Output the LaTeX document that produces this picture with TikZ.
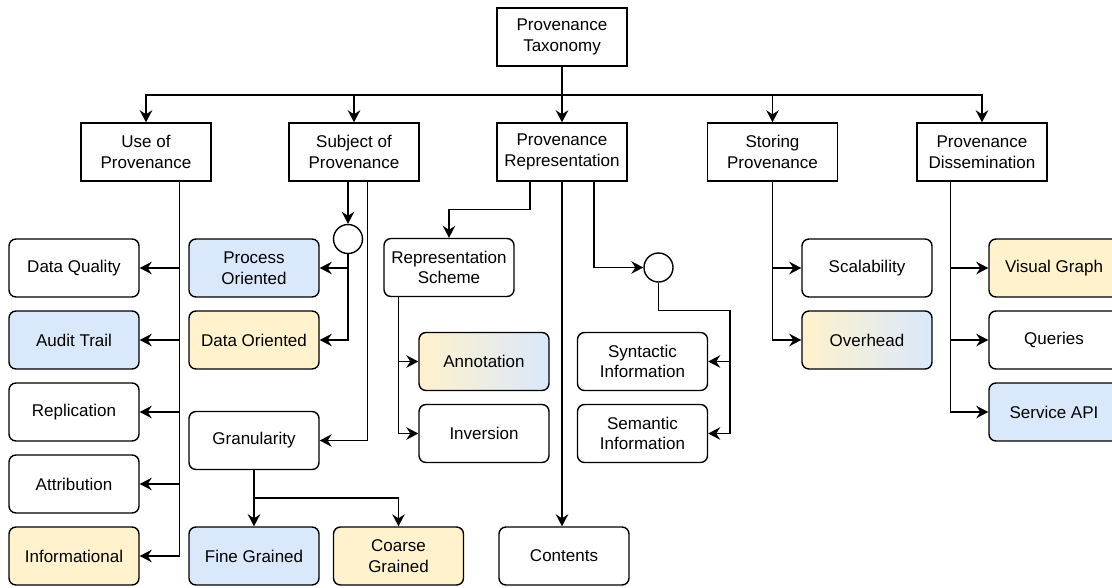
\documentclass[tikz,border=0pt]{standalone}
\usepackage{fontspec}
\setmainfont{Liberation Sans}
\usetikzlibrary{arrows.meta}
\definecolor{boxblue}{HTML}{DAE8FC}
\definecolor{boxyellow}{HTML}{FFF2CC}

\begin{document}
\begin{tikzpicture}[x=1pt,y=-1pt,
  every node/.style={font=\fontsize{17}{20.5}\selectfont, align=center, inner sep=0pt},
  topbox/.style={draw, line width=1.4pt, minimum width=130pt, minimum height=58pt},
  leaf/.style={topbox, rounded corners=7pt},
  blueleaf/.style={leaf, fill=boxblue},
  yellowleaf/.style={leaf, fill=boxyellow},
  mixleaf/.style={leaf, left color=boxyellow, right color=boxblue},
  junction/.style={draw, circle, line width=1.4pt, minimum size=29pt},
  link/.style={line width=1.4pt, -{Stealth[length=12pt,width=12.5pt,inset=4pt]}}
]
\useasboundingbox (0,0) rectangle (1112,587);

% top level and categories
\node[topbox] (root) at (562,37)   {Provenance\\Taxonomy};
\node[topbox] (use)  at (146,152)  {Use of\\Provenance};
\node[topbox] (subj) at (354,152)  {Subject of\\Provenance};
\node[topbox] (repr) at (562,152)  {Provenance\\Representation};
\node[topbox] (stor) at (772.5,152){Storing\\Provenance};
\node[topbox] (diss) at (982,152)  {Provenance\\Dissemination};

% use of provenance
\node[leaf]       (dq)    at (74,268) {Data Quality};
\node[blueleaf]   (audit) at (74,340) {Audit Trail};
\node[leaf]       (repl)  at (74,412) {Replication};
\node[leaf]       (attr)  at (74,484) {Attribution};
\node[yellowleaf] (info)  at (74,556) {Informational};

% subject of provenance
\node[junction]   (c1)     at (348,239) {};
\node[blueleaf]   (proc)   at (254,268) {Process\\Oriented};
\node[yellowleaf] (dori)   at (254,340) {Data Oriented};
\node[leaf]       (gran)   at (254,440.5) {Granularity};
\node[blueleaf]   (fine)   at (254,556) {Fine Grained};
\node[yellowleaf] (coarse) at (398.5,556) {Coarse\\Grained};

% representation
\node[leaf]     (scheme)   at (449,267.5) {Representation\\Scheme};
\node[mixleaf]  (annot)    at (484,361.5) {Annotation};
\node[leaf]     (inv)      at (484,433.5) {Inversion};
\node[leaf]     (contents) at (564,556) {Contents};
\node[junction] (c2)       at (658.5,267.5) {};
\node[leaf]     (synt)     at (642.5,361.5) {Syntactic\\Information};
\node[leaf]     (sem)      at (642.5,433.5) {Semantic\\Information};

% storing
\node[leaf]    (scal) at (867,268) {Scalability};
\node[mixleaf] (over) at (867,340) {Overhead};

% dissemination
\node[yellowleaf] (vis)  at (1054,268) {Visual Graph};
\node[leaf]       (quer) at (1054,340) {Queries};
\node[blueleaf]   (serv) at (1054,412) {Service API};

% connectors
\coordinate (bus) at (562,95);
\draw[link] (root.south) -- (repr.north);
\foreach \t in {use,subj,stor,diss}
  \draw[link] (root.south) -- (bus) -| (\t.north);

\foreach \t in {dq,audit,repl,attr,info}
  \draw[link] ([xshift=33.3pt]use.south) |- (\t.east);

\draw[link] (subj.south -| c1.north) -- (c1.north);
\draw[link] (c1.south) |- (proc.east);
\draw[link] (c1.south) |- (dori.east);
\draw[link] ([xshift=13.7pt]subj.south) |- (gran.east);
\coordinate (gsplit) at (254,498);
\draw[link] (gran.south) -- (fine.north);
\draw[link] (gran.south) -- (gsplit) -| (coarse.north);

\coordinate (schemebend) at (530,209.7);
\draw[link] ([xshift=-32pt]repr.south) -- (schemebend) -| (scheme.north);
\draw[link] ([xshift=-50.7pt]scheme.south) |- (annot.west);
\draw[link] ([xshift=-50.7pt]scheme.south) |- (inv.west);
\draw[link] (repr.south) -- (repr.south |- contents.north);
\draw[link] ([xshift=32pt]repr.south) |- (c2.west);
\coordinate (c2bend) at (730,310.7);
\draw[link] (c2.south) |- (c2bend) |- (synt.east);
\draw[link] (c2bend) |- (sem.east);

\draw[link] (stor.south) |- (scal.west);
\draw[link] (stor.south) |- (over.west);

\foreach \t in {vis,quer,serv}
  \draw[link] ([xshift=-31.3pt]diss.south) |- (\t.west);
\end{tikzpicture}
\end{document}
